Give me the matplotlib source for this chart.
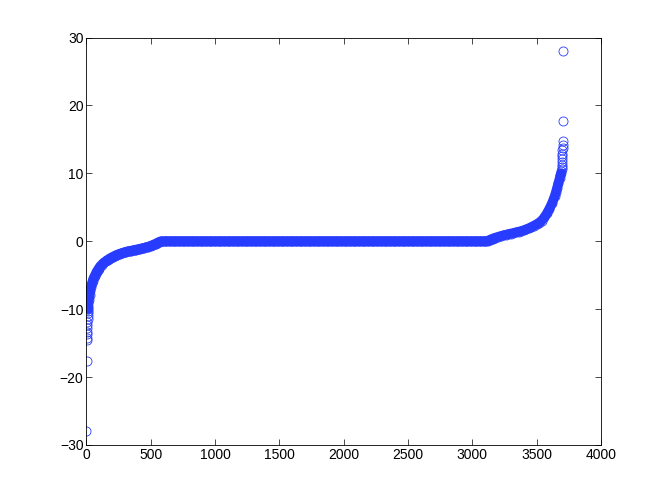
import numpy as np
import matplotlib
matplotlib.use('Agg')
import matplotlib.pyplot as plt

# sorted values, left tail (index, value)
left_x = list(range(1, 16)) + list(range(20, 100, 5)) + list(range(100, 590, 10))
left_y = [-28.0, -17.7, -14.6, -14.2, -13.7, -13.3, -12.8, -12.3, -11.9, -11.5,
          -11.0, -10.6, -10.3, -10.0, -9.7,
          -8.6, -7.9, -7.3, -6.8, -6.4, -6.1, -5.8, -5.5, -5.3, -5.1, -4.9, -4.7,
          -4.5, -4.35, -4.2, -4.05,
          -3.9, -3.65, -3.45, -3.25, -3.1, -2.95, -2.8, -2.7, -2.55, -2.45,
          -2.35, -2.25, -2.15, -2.05, -1.98, -1.9, -1.83, -1.77, -1.71, -1.65,
          -1.6, -1.55, -1.5, -1.46, -1.42, -1.38, -1.34, -1.3, -1.26, -1.22,
          -1.18, -1.14, -1.1, -1.06, -1.02, -0.97, -0.92, -0.87, -0.81, -0.75,
          -0.68, -0.6, -0.52, -0.43, -0.34, -0.25, -0.15, -0.07, 0.0]

# flat middle part
mid_x = list(range(590, 3120, 10))
mid_y = [0.0] * len(mid_x)

# right tail
right_x = [3120, 3130, 3140, 3150, 3160, 3170, 3180] + list(range(3200, 3660, 20)) + \
          [3650, 3660, 3670, 3680, 3685, 3690] + list(range(3693, 3707))
right_y = [0.05, 0.15, 0.25, 0.33, 0.4, 0.47, 0.53,
           0.65, 0.76, 0.86, 0.96, 1.05, 1.13, 1.22, 1.31, 1.4, 1.5, 1.62, 1.76,
           1.92, 2.1, 2.3, 2.5, 2.75, 3.05, 3.5, 4.1, 4.8, 5.6, 6.6,
           7.2, 7.9, 8.6, 9.3, 9.7, 10.0,
           10.3, 10.6, 10.9, 11.3, 11.7, 12.1, 12.5, 12.9, 13.4, 13.8, 14.2, 14.7,
           17.7, 28.0]

x = np.array(left_x + mid_x + right_x)
y = np.array(left_y + mid_y + right_y)

# points so close together that the circles merge into one band
dense = (y > -10.05) & (y < 10.05)

col = '#283cff'
plt.rcParams['font.family'] = ['Liberation Sans', 'DejaVu Sans']
fig = plt.figure(figsize=(6.64, 5), dpi=100)
ax = fig.add_axes([0.13, 0.11, 0.775, 0.815])
ax.plot(x[dense], y[dense], '-', color=col, lw=7, solid_capstyle='round',
        solid_joinstyle='round')
ax.plot(x, y, 'o', mfc='none', mec=col, ms=6.5, mew=0.6)
ax.set_xlim(0, 4000)
ax.set_ylim(-30, 30)
ax.set_xticks(np.arange(0, 4001, 500))
ax.set_yticks(np.arange(-30, 31, 10))
ax.tick_params(direction='in', length=4, width=0.5, labelsize=10, top=True, right=True, pad=2)
for s in ax.spines.values():
    s.set_linewidth(0.6)
fig.savefig('out.png', dpi=100)
